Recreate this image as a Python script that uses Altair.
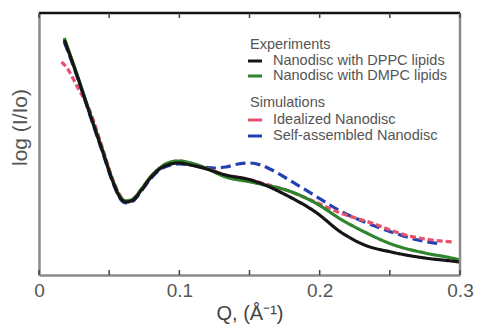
import altair as alt
import pandas as pd

# ---- data ----
q_exp = [0.018, 0.027, 0.036, 0.045, 0.053, 0.058, 0.062, 0.067, 0.073, 0.080, 0.087,
         0.094, 0.100, 0.108, 0.117, 0.133, 0.151, 0.161, 0.176, 0.197, 0.216, 0.232,
         0.251, 0.275, 0.294, 0.300]
dppc = [235, 200, 162, 125, 92, 77, 73, 75, 85, 98, 107, 111, 112, 110, 107, 100, 95,
        90, 80, 63, 42, 30, 23, 17, 14, 13]
dmpc = [237, 201, 163, 126, 93, 78, 74, 76, 86, 99, 108, 113, 114, 112, 108, 98, 93,
        90, 85, 72, 55, 43, 31, 22, 17, 15]

q_ideal = [0.016, 0.020, 0.027, 0.036, 0.045, 0.053, 0.058, 0.062, 0.067, 0.073, 0.080,
           0.087, 0.094, 0.100, 0.108, 0.117, 0.133, 0.151, 0.161, 0.176, 0.197, 0.213,
           0.237, 0.261, 0.280, 0.295]
ideal = [213, 207, 189, 165, 128, 94, 79, 74, 76, 86, 99, 108, 113, 114, 112, 108, 100,
         95, 91, 85, 73, 63, 52, 40, 35, 33]

q_self = [0.018, 0.027, 0.036, 0.045, 0.053, 0.058, 0.062, 0.067, 0.073, 0.080, 0.087,
          0.094, 0.100, 0.108, 0.117, 0.125, 0.133, 0.142, 0.150, 0.158, 0.166, 0.176,
          0.197, 0.216, 0.232, 0.251, 0.270, 0.287]
selfasm = [233, 199, 161, 124, 91, 76, 72, 74, 84, 97, 106, 110, 111, 110, 108, 107, 108,
           111, 112, 110, 105, 97, 79, 63, 53, 43, 35, 31]

x_tick_labels = [0, 0.1, 0.2, 0.3]
x_minor_ticks = [0, 0.05, 0.1, 0.15, 0.2, 0.25, 0.3]

series_names = ["Nanodisc with DPPC lipids", "Nanodisc with DMPC lipids",
                "Idealized Nanodisc", "Self-assembled Nanodisc"]
group_titles = ["Experiments", "Simulations"]
colors = ["#151515", "#2e852e", "#e6506c", "#2240b0"]
dashes = [[1, 0], [1, 0], [6, 3], [10, 5]]

PL = 31
W, H = 421, 262
FONT = "Liberation Sans"

xs = alt.Scale(domain=[0, 0.3], nice=False, zero=False)
ys = alt.Scale(domain=[0, 262], nice=False, zero=False)

xaxis = alt.Axis(values=x_tick_labels, format="~g", title="Q, (Å⁻¹)",
                 grid=False, ticks=False, labelFontSize=19,
                 labelColor="#555", labelFont=FONT, labelPadding=6,
                 labelFlush=False, domainColor="#8a8a8a", domainWidth=2.5,
                 titleFontSize=20, titleFont=FONT, titleColor="#444",
                 titleFontWeight="normal", titlePadding=3)
yaxis = alt.Axis(labels=False, ticks=False, grid=False, title="log (I/Io)",
                 domainColor="#8a8a8a", domainWidth=2.5, titleFontSize=21,
                 titleFont=FONT, titleColor="#555", titleFontWeight="normal",
                 titleX=-19, titleY=114, titleAngle=-90, titleAlign="center",
                 titleBaseline="middle")


def curve(q, v, name, i):
    df = pd.DataFrame({"Q": q, "I": v, "series": name})
    return alt.Chart(df).mark_line(
        color=colors[i], strokeWidth=3.2, strokeDash=dashes[i], interpolate="monotone"
    ).encode(x=alt.X("Q:Q", scale=xs, axis=xaxis),
             y=alt.Y("I:Q", scale=ys, axis=yaxis))


layers = [
    curve(q_self, selfasm, series_names[3], 3),
    curve(q_ideal, ideal, series_names[2], 2),
    curve(q_exp, dmpc, series_names[1], 1),
    curve(q_exp, dppc, series_names[0], 0),
]

# frame: top (black) and right (grey)
one = alt.InlineData(values=[{"a": 1}])
layers.append(alt.Chart(one).mark_rule(color="#111", strokeWidth=2.5).encode(
    x=alt.value(0), x2=alt.value(W), y=alt.value(0)))
layers.append(alt.Chart(one).mark_rule(color="#8a8a8a", strokeWidth=2.5).encode(
    x=alt.value(W), y=alt.value(0), y2=alt.value(H)))

# inward ticks on bottom and top
tick_df = pd.DataFrame({"Q": x_minor_ticks})
layers.append(alt.Chart(tick_df).mark_rule(color="#444", strokeWidth=1.5).encode(
    x=alt.X("Q:Q", scale=xs, axis=xaxis), y=alt.value(H), y2=alt.value(H - 5)))
layers.append(alt.Chart(tick_df).mark_rule(color="#444", strokeWidth=1.5).encode(
    x=alt.X("Q:Q", scale=xs, axis=xaxis), y=alt.value(0), y2=alt.value(5)))

# manual legend (positions in the plot frame)
sym_x0, sym_x1, txt_x, head_x = 248 - 8 - PL, 262 - 8 - PL, 273 - 8 - PL, 250 - 8 - PL
head_y = [32, 90]
row_y = [48, 63, 107, 123]
LFS = 14.5
for t, yy in zip(group_titles, head_y):
    layers.append(alt.Chart(one).mark_text(
        align="left", baseline="middle", fontSize=LFS, font=FONT, color="#555"
    ).encode(x=alt.value(head_x), y=alt.value(yy), text=alt.value(t)))
for i, (name, yy) in enumerate(zip(series_names, row_y)):
    layers.append(alt.Chart(one).mark_rule(color=colors[i], strokeWidth=3).encode(
        x=alt.value(sym_x0), x2=alt.value(sym_x1), y=alt.value(yy)))
    layers.append(alt.Chart(one).mark_text(
        align="left", baseline="middle", fontSize=LFS, font=FONT, color="#555"
    ).encode(x=alt.value(txt_x), y=alt.value(yy), text=alt.value(name)))

chart = alt.layer(*layers).properties(
    width=W, height=H,
    autosize=alt.AutoSizeParams(type="none"),
    padding={"left": PL, "top": 5, "right": 15, "bottom": 50},
).configure_view(stroke=None).configure(background="white")

chart.save("out.html", embed_options={"renderer": "svg", "actions": False})
